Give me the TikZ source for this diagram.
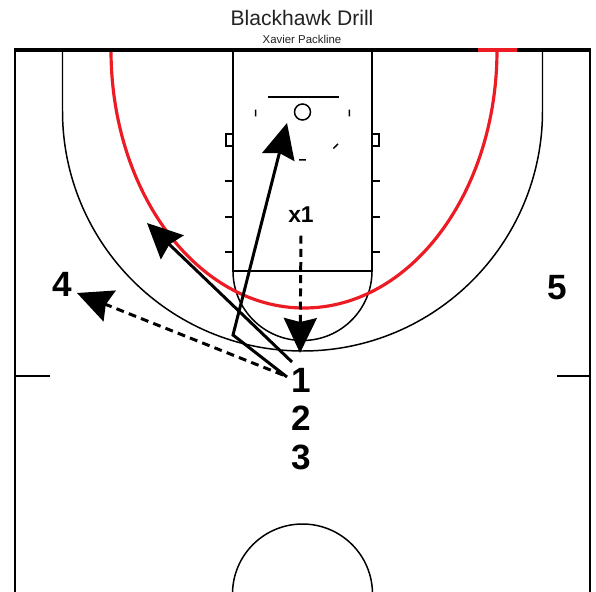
\documentclass[tikz,border=0pt]{standalone}
\usepackage{fontspec}
\setmainfont{Liberation Sans}
\usetikzlibrary{arrows.meta,positioning}
\definecolor{CourtRed}{RGB}{237,28,36}
\definecolor{TitleGray}{RGB}{35,35,35}

\begin{document}
\begin{tikzpicture}[
    x=0.02cm, y=0.02cm,
    court/.style={draw=black, line width=0.85pt},
    border/.style={draw=black, line width=1.7pt},
    redline/.style={draw=CourtRed, line width=1.8pt},
    player/.style={font=\fontsize{20}{20}\selectfont\bfseries, inner sep=0pt},
    cut/.style={line width=1.7pt, -{Stealth[length=7mm, width=6.6mm, inset=0.8mm]}},
    pass/.style={cut, dash pattern=on 4.5pt off 3pt}
  ]
  \useasboundingbox (0,0) rectangle (596,-592);
  % title
  \node[font=\fontsize{12}{14}\selectfont, text=TitleGray] (title) at (302,-18) {Blackhawk Drill};
  \node[font=\fontsize{6.5}{8}\selectfont, text=TitleGray] (subtitle) at (302,-39) {Xavier Packline};
  % court
  \draw[border] (15,-50) -- (15,-592);
  \draw[border] (590,-50) -- (590,-592);
  \draw[court] (15,-376) -- (50,-376);
  \draw[court] (557,-376) -- (590,-376);
  \draw[court] (62.5,-50) -- (62.5,-111) arc[start angle=180, end angle=360, radius=240] -- (542.5,-50);
  \draw[court] (233,-50) rectangle (372,-271);
  \draw[court] (233,-271) arc[start angle=180, end angle=360, radius=69.5];
  \draw[court] (232.5,-594) arc[start angle=180, end angle=0, radius=70];
  \draw[court] (226,-134) rectangle (233,-146);
  \draw[court] (372,-134) rectangle (379,-146);
  \foreach \y in {181,217,252} {
    \draw[court] (225,-\y) -- (233,-\y);
    \draw[court] (372,-\y) -- (380,-\y);
  }
  % basket
  \draw[court] (268,-97) -- (339,-97);
  \draw[court] (302.5,-112) circle[radius=8];
  \foreach \a in {0,-45,-90,-180}
    \draw[court] ([shift={(\a-4:47)}]302.5,-113) arc[start angle=\a-4, end angle=\a+4, radius=47];
  % red arc
  \draw[redline] (111,-50) arc[start angle=180, end angle=360, x radius=193, y radius=258];
  \draw[line width=2.8pt] (14,-50) -- (591,-50);
  \draw[draw=CourtRed, line width=2.8pt] (478,-50) -- (517,-50);
  % players
  \node[player] (p1) at (301,-380) {1};
  \node[player, below=0.27cm of p1] (p2) {2};
  \node[player, below=0.27cm of p2] (p3) {3};
  \node[player] (p4) at (62,-284) {4};
  \node[player] (p5) at (557,-288) {5};
  \node[player, font=\fontsize{13}{13}\selectfont\bfseries] (x1) at (301,-215) {x1};
  % movement
  \coordinate (vcut) at (233,-335);
  \coordinate (goal) at (287,-123);
  \coordinate (wing) at (147,-223);
  \coordinate (help) at (300,-353);
  \coordinate (pass4) at (77,-293);
  \draw[cut] (287,-377) -- (vcut) -- (goal);
  \draw[cut] (292,-362) -- (wing);
  \draw[pass] (283,-375) -- (pass4);
  \draw[pass] ([yshift=-0.25cm]x1.south) -- (help);
\end{tikzpicture}
\end{document}
